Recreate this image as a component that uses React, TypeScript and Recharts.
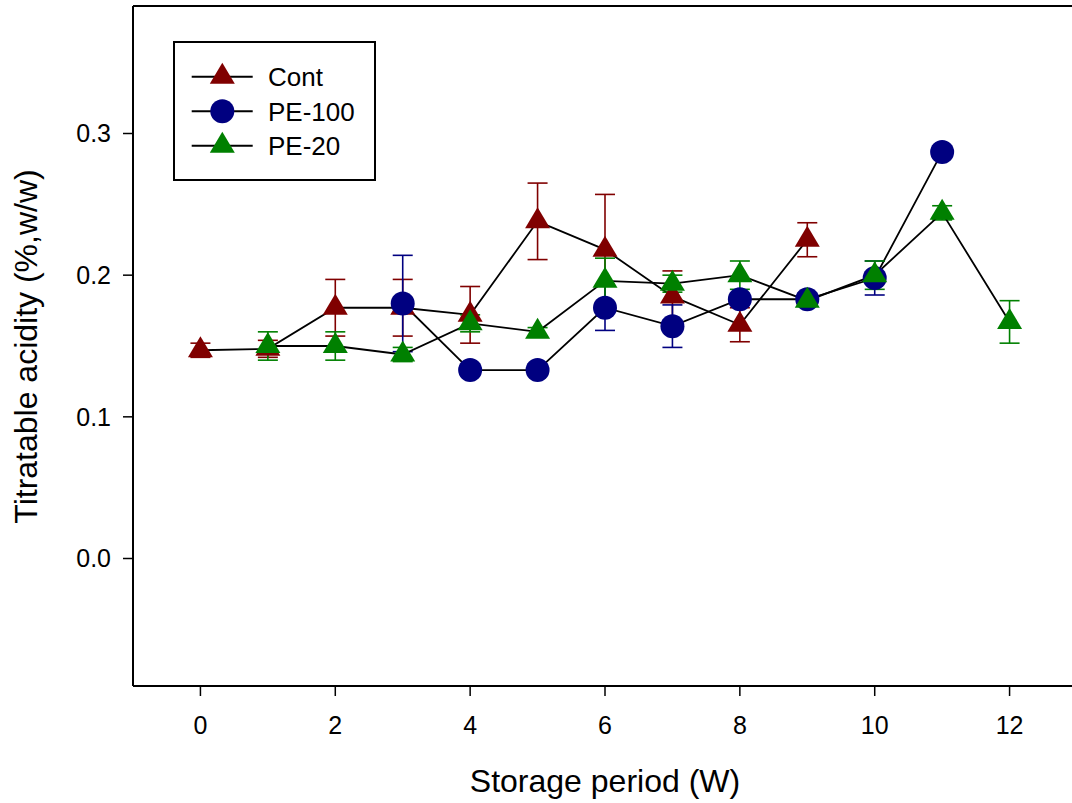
import React from 'react';
import { ComposedChart, Line, XAxis, YAxis, ErrorBar, ReferenceLine, Legend, Label } from 'recharts';

const weeks = [0, 1, 2, 3, 4, 5, 6, 7, 8, 9, 10, 11, 12];
const contValues = [0.147, 0.148, 0.177, 0.177, 0.172, 0.238, 0.218, 0.185, 0.165, 0.225, null, null, null];
const contErrors = [0.005, 0.006, 0.020, 0.020, 0.020, 0.027, 0.039, 0.018, 0.012, 0.012, null, null, null];
const pe100Values = [null, null, null, 0.180, 0.133, 0.133, 0.177, 0.164, 0.183, 0.183, 0.198, 0.287, null];
const pe100Errors = [null, null, null, 0.034, 0.003, 0.003, 0.016, 0.015, 0.004, 0.004, 0.012, 0.003, null];
const pe20Values = [null, 0.150, 0.150, 0.144, 0.166, 0.160, 0.196, 0.194, 0.200, 0.182, 0.200, 0.244, 0.167];
const pe20Errors = [null, 0.010, 0.010, 0.005, 0.006, 0.003, 0.016, 0.006, 0.010, 0.003, 0.010, 0.005, 0.015];

const seriesNames = ['Cont', 'PE-100', 'PE-20'];
const seriesColors = ['#800000', '#000080', '#008000'];
const seriesShapes = ['triangle', 'circle', 'triangle'];
const xTicks = [0, 2, 4, 6, 8, 10, 12];
const yTicks = [0, 0.1, 0.2, 0.3];
const xTitle = 'Storage period (W)';
const yTitle = 'Titratable acidity (%,w/w)';

const data = weeks.map((w, i) => ({
  week: w,
  cont: contValues[i],
  contErr: contErrors[i],
  pe100: pe100Values[i],
  pe100Err: pe100Errors[i],
  pe20: pe20Values[i],
  pe20Err: pe20Errors[i],
}));

const FONT = '"Liberation Sans", Arial, Helvetica, sans-serif';

function markerShape(shape: string, color: string, cx: number, cy: number, key?: string) {
  if (shape === 'circle') {
    return <circle key={key} cx={cx} cy={cy} r={12} fill={color} />;
  }
  const w = 25;
  const h = 21;
  const pts = `${cx},${cy - (2 * h) / 3} ${cx - w / 2},${cy + h / 3} ${cx + w / 2},${cy + h / 3}`;
  return <polygon key={key} points={pts} fill={color} />;
}

function makeDot(shape: string, color: string) {
  return (p: any) => {
    const key = `dot-${shape}-${color}-${p.index}`;
    if (p.value == null || p.cy == null || p.cx == null || Number.isNaN(p.cy)) {
      return <g key={key} />;
    }
    return markerShape(shape, color, p.cx, p.cy, key);
  };
}

function renderLegend() {
  const rows = [35.7, 70.2, 104.7];
  return (
    <svg width={204} height={141} style={{ display: 'block', overflow: 'visible' }}>
      <rect x={1} y={1} width={201} height={138} fill="#fff" stroke="#000" strokeWidth={2} />
      {seriesNames.map((name, i) => (
        <g key={name}>
          <line x1={18.7} x2={79.7} y1={rows[i]} y2={rows[i]} stroke="#000" strokeWidth={2} />
          {markerShape(seriesShapes[i], seriesColors[i], 49.3, rows[i])}
          <text x={95} y={rows[i] + 9.5} fontSize={26} fontFamily={FONT} fill="#000">
            {name}
          </text>
        </g>
      ))}
    </svg>
  );
}

const keys = ['cont', 'pe100', 'pe20'];

export default function App() {
  return (
    <div style={{ position: 'absolute', left: 0, top: 0, width: 1072, height: 803, overflow: 'hidden', background: '#fff' }}>
      <ComposedChart
        width={1090}
        height={803}
        data={data}
        margin={{ top: 6, right: 13, bottom: 0, left: 0 }}
      >
        <XAxis
          dataKey="week"
          type="number"
          domain={[-1, 13]}
          ticks={xTicks}
          allowDataOverflow
          height={117}
          stroke="#000"
          axisLine={{ stroke: '#000', strokeWidth: 2 }}
          tickLine={{ stroke: '#000', strokeWidth: 1.5 }}
          tickSize={10}
          tickMargin={20}
          tick={{ fontSize: 25, fontFamily: FONT, fill: '#000' }}
        >
          <Label
            content={() => (
              <text x={605} y={792} textAnchor="middle" fontSize={32} fontFamily={FONT} fill="#000">
                {xTitle}
              </text>
            )}
          />
        </XAxis>
        <YAxis
          type="number"
          domain={[-0.09, 0.39]}
          ticks={yTicks}
          allowDataOverflow
          width={133}
          stroke="#000"
          axisLine={{ stroke: '#000', strokeWidth: 2 }}
          tickLine={{ stroke: '#000', strokeWidth: 1.5 }}
          tickSize={10}
          tickMargin={12}
          tickFormatter={(v: number) => v.toFixed(1)}
          tick={{ fontSize: 25, fontFamily: FONT, fill: '#000' }}
        >
          <Label
            content={() => (
              <text
                x={36.5}
                y={346.5}
                transform="rotate(-90 36.5 346.5)"
                textAnchor="middle"
                fontSize={32}
                fontFamily={FONT}
                fill="#000"
              >
                {yTitle}
              </text>
            )}
          />
        </YAxis>
        <ReferenceLine y={0.39} stroke="#000" strokeWidth={2} ifOverflow="visible" />
        {keys.map((k, i) => (
          <Line
            key={k}
            dataKey={k}
            name={seriesNames[i]}
            type="linear"
            stroke="#000"
            strokeWidth={1.8}
            isAnimationActive={false}
            connectNulls={false}
            dot={makeDot(seriesShapes[i], seriesColors[i])}
            activeDot={false}
          >
            <ErrorBar
              dataKey={`${k}Err`}
              direction="y"
              width={10}
              stroke={seriesColors[i]}
              strokeWidth={1.6}
            />
          </Line>
        ))}
        <Legend
          layout="vertical"
          align="center"
          verticalAlign="middle"
          content={renderLegend}
          wrapperStyle={{ left: 173, top: 41, width: 204, height: 141, bottom: 'auto', right: 'auto' }}
        />
      </ComposedChart>
    </div>
  );
}
